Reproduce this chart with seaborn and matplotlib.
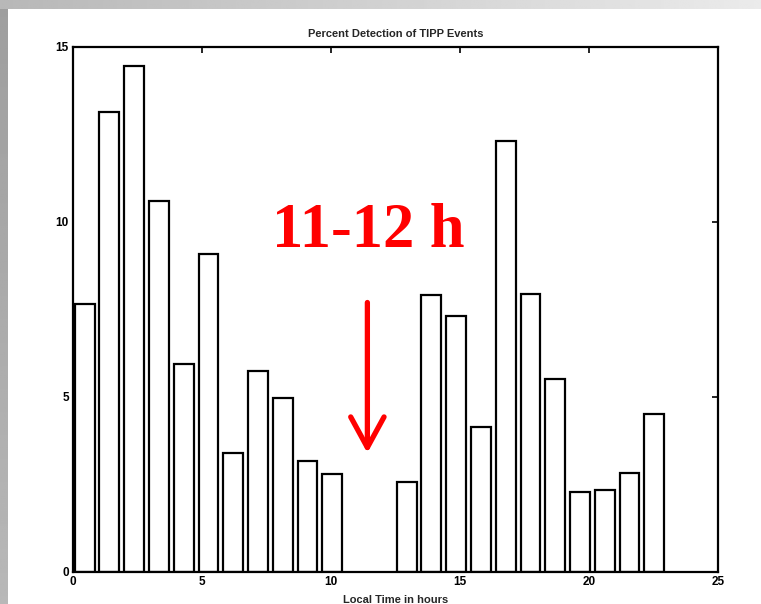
import numpy as np
import pandas as pd
import matplotlib
matplotlib.use("Agg")
import matplotlib.pyplot as plt
import seaborn as sns

# Bin centres (local hour) and percent detection
hours = [0.45, 1.41, 2.37, 3.33, 4.29, 5.25, 6.21, 7.17, 8.13, 9.09, 10.05,
         12.93, 13.89, 14.85, 15.81, 16.77, 17.73, 18.69, 19.65, 20.61, 21.57, 22.53]
percent = [7.66, 13.14, 14.46, 10.6, 5.94, 9.09, 3.4, 5.74, 4.97, 3.17, 2.8,
           2.58, 7.91, 7.31, 4.14, 12.31, 7.94, 5.51, 2.29, 2.34, 2.82, 4.51]
x_ticks = [0, 5, 10, 15, 20, 25]
y_ticks = [0, 5, 10, 15]
title = "Percent Detection of TIPP Events"
xlabel = "Local Time in hours"
note = "11-12 h"

df = pd.DataFrame({"hour": hours, "percent": percent})

sns.set_style("white")
plt.rcParams["font.family"] = ["Liberation Sans", "DejaVu Sans"]

fig = plt.figure(figsize=(7.61, 6.04), dpi=100)
fig.patch.set_facecolor("white")

# gray gradient strips (slide frame)
top = fig.add_axes([0, 1 - 9 / 604, 1, 9 / 604])
top.imshow(np.linspace(0.72, 0.92, 256)[None, :], cmap="gray", vmin=0, vmax=1,
           aspect="auto", extent=[0, 1, 0, 1])
top.axis("off")
left = fig.add_axes([0, 0, 8 / 761, 1 - 9 / 604])
left.imshow(np.linspace(0.62, 0.72, 256)[:, None], cmap="gray", vmin=0, vmax=1,
            aspect="auto", extent=[0, 1, 0, 1])
left.axis("off")

ax = fig.add_axes([73 / 761, 1 - 572 / 604, (718 - 73) / 761, (572 - 47) / 604])
sns.barplot(data=df, x="hour", y="percent", native_scale=True, width=0.8,
            color="white", saturation=1, edgecolor="black", linewidth=1.6,
            errorbar=None, ax=ax)

ax.set_xlim(0, 25)
ax.set_ylim(0, 15)
ax.set_xticks(x_ticks)
ax.set_xticklabels([str(t) for t in x_ticks])
ax.set_yticks(y_ticks)
ax.set_yticklabels([str(t) for t in y_ticks])
ax.tick_params(direction="in", length=4, width=1.2, top=True, right=True,
               labelsize=8.5, pad=3, colors="black")
for lab in ax.get_xticklabels() + ax.get_yticklabels():
    lab.set_fontweight("bold")
for s in ax.spines.values():
    s.set_visible(True)
    s.set_color("black")
    s.set_linewidth(1.6)

ax.set_title(title, fontsize=8, fontweight="bold", pad=7)
ax.set_xlabel(xlabel, fontsize=8, fontweight="bold", labelpad=5)
ax.set_ylabel("")

ax.text(11.43, 9.29, note, color="#ff0000", fontsize=45, fontweight="bold",
        family=["Liberation Serif", "DejaVu Serif"], ha="center", va="baseline")
ax.annotate("", xy=(11.41, 3.4), xytext=(11.41, 7.7),
            arrowprops=dict(arrowstyle="->,head_length=1.1,head_width=0.6",
                            color="#ff0000", lw=3.8, mutation_scale=20,
                            shrinkA=0, shrinkB=0))

fig.savefig("out.png", dpi=100)
